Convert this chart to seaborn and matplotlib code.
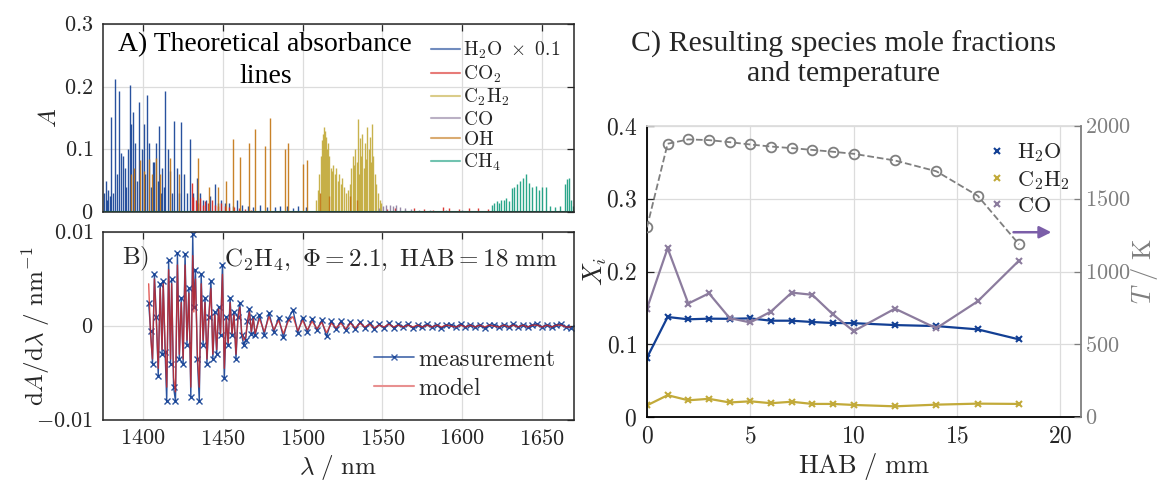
import numpy as np
import pandas as pd
import matplotlib
matplotlib.use('Agg')
import matplotlib.pyplot as plt
import seaborn as sns
from matplotlib.ticker import FuncFormatter, MultipleLocator
from matplotlib.lines import Line2D

# ---------------- data: panel A (stick spectra) ----------------
h2o_wl = [1375.5, 1376.7, 1377.5, 1378.4, 1379.2, 1380.3, 1381.5, 1382.7, 1383.9, 1385.1,
          1386.1, 1387.3, 1388.7, 1389.5, 1390.4, 1391.6, 1392.8, 1394.0, 1395.2, 1396.4,
          1397.8, 1399.3, 1400.5, 1401.5, 1402.4, 1404.1, 1405.0, 1406.0, 1407.2, 1408.4,
          1409.4, 1410.3, 1411.2, 1412.0, 1413.0, 1413.9, 1415.6, 1416.8, 1418.0, 1419.2,
          1421.1, 1422.4, 1423.7, 1425.7, 1427.5, 1429.3, 1431.2, 1433.8, 1435.9, 1437.5,
          1439.6, 1442.0, 1445.1, 1447.0, 1449.2, 1451.5, 1454.0, 1456.5, 1458.8, 1462.0,
          1466.0, 1469.0, 1473.2, 1478.0, 1482.8, 1486.0, 1490.0, 1494.0, 1497.2, 1502.0]
h2o_A = [0.03, 0.05, 0.02, 0.035, 0.025, 0.152, 0.03, 0.213, 0.06, 0.194,
         0.095, 0.09, 0.07, 0.04, 0.10, 0.203, 0.14, 0.16, 0.11, 0.05,
         0.176, 0.10, 0.14, 0.06, 0.187, 0.11, 0.04, 0.08, 0.08, 0.11,
         0.05, 0.138, 0.03, 0.07, 0.04, 0.193, 0.10, 0.065, 0.03, 0.145,
         0.07, 0.03, 0.143, 0.06, 0.03, 0.116, 0.03, 0.055, 0.03, 0.02,
         0.02, 0.025, 0.045, 0.015, 0.02, 0.015, 0.015, 0.01, 0.02, 0.012,
         0.01, 0.008, 0.012, 0.008, 0.008, 0.01, 0.01, 0.006, 0.01, 0.008]

co2_wl = [1430.5, 1431.5, 1433.0, 1434.5, 1436.0, 1437.5, 1439.0, 1441.0, 1443.0, 1445.0,
          1447.0, 1449.0, 1451.5, 1454.0, 1457.0, 1460.0, 1464.0, 1468.0, 1553.0, 1558.0,
          1564.0, 1570.0, 1576.0, 1582.0, 1588.0, 1592.0, 1598.0, 1604.0, 1610.0, 1616.0]
co2_A = [0.046, 0.024, 0.02, 0.015, 0.022, 0.012, 0.018, 0.015, 0.02, 0.012,
         0.01, 0.015, 0.01, 0.008, 0.008, 0.006, 0.005, 0.004, 0.005, 0.006,
         0.004, 0.006, 0.005, 0.004, 0.008, 0.007, 0.005, 0.006, 0.007, 0.005]

c2h2_wl = [1508.5, 1509.5, 1510.5, 1511.3, 1512.0, 1512.7, 1513.4, 1514.0, 1514.7, 1515.3,
           1516.0, 1516.8, 1517.5, 1518.3, 1519.2, 1520.0, 1521.0, 1522.0, 1523.0, 1524.0,
           1525.0, 1526.0, 1527.2, 1528.5, 1529.5, 1530.5, 1531.5, 1532.3, 1533.0, 1533.8,
           1534.5, 1535.3, 1536.0, 1536.8, 1537.5, 1538.3, 1539.0, 1539.8, 1540.5, 1541.3,
           1542.0, 1542.8, 1543.6, 1544.4, 1545.3, 1546.2, 1547.2, 1548.3, 1549.3]
c2h2_A = [0.02, 0.035, 0.06, 0.09, 0.115, 0.125, 0.135, 0.13, 0.12, 0.10,
          0.11, 0.09, 0.07, 0.065, 0.075, 0.06, 0.07, 0.05, 0.06, 0.045,
          0.055, 0.04, 0.03, 0.035, 0.045, 0.07, 0.09, 0.075, 0.10, 0.08,
          0.148, 0.06, 0.118, 0.09, 0.125, 0.07, 0.11, 0.085, 0.135, 0.10,
          0.12, 0.08, 0.14, 0.09, 0.06, 0.045, 0.03, 0.02, 0.015]

co_wl = [1548.0, 1550.5, 1552.5, 1554.5, 1556.5, 1558.5, 1561.0, 1564.0, 1568.0, 1573.0,
         1580.0, 1590.0, 1600.0]
co_A = [0.006, 0.009, 0.011, 0.012, 0.010, 0.011, 0.008, 0.007, 0.005, 0.004,
        0.004, 0.003, 0.003]

oh_wl = [1392.8, 1394.7, 1398.1, 1400.5, 1404.1, 1405.5, 1407.9, 1410.8, 1416.8, 1422.8,
         1434.3, 1441.5, 1447.2, 1451.8, 1456.3, 1460.6, 1466.7, 1470.0, 1476.7, 1479.9,
         1488.7, 1491.1, 1500.2, 1502.6, 1511.0, 1516.3, 1529.5, 1534.3]
oh_A = [0.06, 0.07, 0.083, 0.065, 0.085, 0.06, 0.087, 0.06, 0.086, 0.06,
        0.087, 0.04, 0.04, 0.05, 0.117, 0.088, 0.11, 0.133, 0.105, 0.15,
        0.10, 0.11, 0.077, 0.083, 0.03, 0.025, 0.025, 0.02]

ch4_wl = [1618.5, 1620.0, 1621.5, 1623.0, 1624.5, 1626.0, 1627.5, 1629.0, 1630.9, 1632.5,
          1634.5, 1636.3, 1638.1, 1640.0, 1642.0, 1644.0, 1646.0, 1648.0, 1650.0, 1652.5,
          1655.0, 1658.0, 1661.0, 1664.5, 1665.7, 1666.9, 1668.0, 1669.3]
ch4_A = [0.012, 0.015, 0.018, 0.015, 0.02, 0.02, 0.022, 0.018, 0.038, 0.04,
         0.045, 0.05, 0.055, 0.06, 0.047, 0.04, 0.042, 0.035, 0.04, 0.04,
         0.01, 0.008, 0.01, 0.045, 0.052, 0.055, 0.02, 0.01]

species_labels = [r'$\mathrm{H_2O\ \times\ 0.1}$', r'$\mathrm{CO_2}$', r'$\mathrm{C_2H_2}$',
                  r'$\mathrm{CO}$', r'$\mathrm{OH}$', r'$\mathrm{CH_4}$']

# ---------------- data: panel B (derivative spectra) ----------------
osc_wl = [1403.6, 1404.8, 1406.0, 1407.2, 1408.4, 1409.6, 1410.8, 1412.0, 1412.7, 1413.9,
          1414.9, 1416.1, 1417.3, 1418.0, 1419.2, 1420.4, 1421.6, 1422.8, 1424.0, 1425.2,
          1426.4, 1427.6, 1428.8, 1430.0, 1431.2, 1431.9, 1432.9, 1434.1, 1435.3, 1436.5,
          1437.7, 1438.9, 1440.1, 1441.3, 1442.6, 1443.8, 1445.0, 1446.2, 1447.4, 1448.6,
          1449.8, 1451.0, 1452.2, 1453.4, 1454.6, 1455.8, 1457.0, 1458.3, 1459.5, 1460.7,
          1461.9, 1463.1, 1464.3, 1465.5, 1466.7, 1467.9, 1469.1, 1470.3]
meas_osc = [0.0025, -0.0005, -0.004, 0.0055, 0.001, -0.0053, 0.0045, -0.003, 0.0048, -0.0028,
            -0.008, 0.007, -0.004, 0.005, -0.0065, -0.008, 0.0078, -0.0035, 0.003, -0.004,
            0.0077, -0.002, 0.004, -0.0075, 0.0098, 0.002, 0.006, -0.0035, -0.008, 0.0055,
            -0.002, 0.003, -0.004, 0.001, 0.0048, -0.0035, 0.0015, -0.003, 0.002, -0.001,
            0.0065, -0.0055, 0.001, -0.002, 0.003, -0.001, 0.0015, -0.0035, 0.001, 0.0025,
            -0.001, -0.002, -0.0015, 0.0005, 0.0018, -0.0008, 0.001, -0.001]
model_osc = [0.0045, -0.001, -0.0035, 0.005, 0.0005, -0.0045, 0.004, -0.0025, 0.0045, -0.002,
             -0.0065, 0.006, -0.0035, 0.0045, -0.0055, -0.007, 0.0065, -0.003, 0.0025, -0.0035,
             0.0065, -0.0015, 0.0035, -0.0065, 0.0075, 0.0015, 0.005, -0.003, -0.0065, 0.0045,
             -0.0015, 0.0025, -0.0035, 0.001, 0.004, -0.003, 0.0012, -0.0025, 0.0018, -0.0008,
             0.0055, -0.0045, 0.0008, -0.0018, 0.0025, -0.0008, 0.0012, -0.003, 0.0008, 0.002,
             -0.0008, -0.0015, -0.0012, 0.0004, 0.0015, -0.0006, 0.0008, -0.0008]
tail_wl = [1473, 1476, 1479, 1482, 1485, 1488, 1491, 1494, 1497, 1500,
           1503, 1506, 1509, 1512, 1515, 1518, 1521, 1524, 1527, 1530,
           1533, 1536, 1539, 1542, 1545, 1548, 1551, 1554, 1557, 1560,
           1563, 1566, 1569, 1572, 1575, 1578, 1581, 1584, 1587, 1590,
           1593, 1596, 1599, 1602, 1605, 1608, 1611, 1614, 1617, 1620,
           1623, 1626, 1629, 1632, 1635, 1638, 1641, 1644, 1647, 1650,
           1653, 1656, 1659, 1662, 1665, 1668]
meas_tail = [0.0012, -0.0009, 0.0014, -0.0006, 0.0009, -0.0012, 0.0008, 0.0017, -0.0007, 0.0009,
             -0.0006, 0.0008, -0.0004, 0.0006, -0.0011, 0.0005, -0.0003, 0.0005, -0.0004, 0.0004,
             -0.0003, 0.0004, -0.0002, 0.0003, -0.0003, 0.0002, -0.0002, 0.0003, -0.0002, 0.0002,
             -0.0001, 0.0002, -0.0002, 0.0001, -0.0001, 0.0002, -0.0001, 0.0001, -0.0002, 0.0001,
             0.0001, -0.0001, 0.0002, -0.0001, 0.0001, -0.0001, 0.0001, -0.0002, 0.0001, 0.0001,
             -0.0001, 0.0001, -0.0001, 0.0002, -0.0001, 0.0001, -0.0001, 0.0001, 0.0002, -0.0001,
             0.0001, -0.0001, 0.0001, 0.0002, -0.0001, -0.0002]
model_tail = [0.0008, -0.0006, 0.0010, -0.0004, 0.0006, -0.0008, 0.0005, 0.0010, -0.0005, 0.0006,
              -0.0004, 0.0005, -0.0003, 0.0004, -0.0007, 0.0003, -0.0002, 0.0003, -0.0003, 0.0003,
              -0.0002, 0.0003, -0.0001, 0.0002, -0.0002, 0.0001, -0.0001, 0.0002, -0.0001, 0.0001,
              -0.0001, 0.0001, -0.0001, 0.0001, -0.0001, 0.0001, -0.0001, 0.0001, -0.0001, 0.0001,
              0.0000, -0.0001, 0.0001, -0.0001, 0.0001, -0.0001, 0.0001, -0.0001, 0.0001, 0.0000,
              -0.0001, 0.0001, -0.0001, 0.0001, -0.0001, 0.0001, -0.0001, 0.0001, 0.0001, -0.0001,
              0.0001, -0.0001, 0.0001, 0.0001, -0.0001, -0.0001]

# ---------------- data: panel C ----------------
hab = [0, 1, 2, 3, 4, 5, 6, 7, 8, 9, 10, 12, 14, 16, 18]
x_h2o = [0.0814, 0.1375, 0.1343, 0.1352, 0.1350, 0.1356, 0.1324, 0.1324, 0.1306, 0.1292,
         0.1290, 0.1264, 0.1250, 0.1205, 0.1067]
x_c2h2 = [0.016, 0.030, 0.023, 0.025, 0.020, 0.0216, 0.019, 0.021, 0.018, 0.018,
          0.0166, 0.0147, 0.017, 0.0184, 0.018]
x_co = [0.149, 0.232, 0.156, 0.170, 0.136, 0.130, 0.145, 0.171, 0.168, 0.141,
        0.118, 0.149, 0.122, 0.159, 0.215]
temp_K = [1304, 1878, 1908, 1903, 1889, 1873, 1859, 1848, 1836, 1823,
          1809, 1763, 1689, 1521, 1187]

# ---------------- style ----------------
sns.set_theme(style='white')
plt.rcParams['font.family'] = ['Liberation Serif', 'DejaVu Serif']
plt.rcParams['mathtext.fontset'] = 'cm'
plt.rcParams['axes.unicode_minus'] = True

C_H2O = '#123f94'
C_CO2 = '#d8241f'
C_C2H2 = '#c2aa3a'
C_CO = '#8c7c9e'
C_OH = '#c27412'
C_CH4 = '#139b7c'
C_GRID = '#dcdcdc'
C_FRAME = '#262626'
C_GREY = '#7f7f7f'

TICK = 16
LAB = 18

def mfmt(v, p):
    s = f'{v:g}'
    return f'${s}$'

fig = plt.figure(figsize=(11.64, 4.83), dpi=100)
axA = fig.add_axes([0.0885, 0.561, 0.4046, 0.389])
axB = fig.add_axes([0.0885, 0.1304, 0.4046, 0.389])
axC = fig.add_axes([0.5558, 0.1366, 0.3729, 0.6025])
axT = axC.twinx()

for ax in (axA, axB):
    ax.set_xlim(1375, 1670)
    ax.xaxis.set_major_locator(MultipleLocator(50))
    ax.grid(True, color=C_GRID, lw=0.9)
    ax.set_axisbelow(True)
    ax.tick_params(direction='in', length=5, width=0.9, top=True, right=True,
                   labelsize=TICK, colors=C_FRAME, pad=7)
    for s in ax.spines.values():
        s.set_color(C_FRAME)
        s.set_linewidth(1.1)
    ax.yaxis.set_major_formatter(FuncFormatter(mfmt))
    ax.xaxis.set_major_formatter(FuncFormatter(mfmt))

# ---------------- panel A ----------------
axA.set_ylim(0, 0.3)
axA.yaxis.set_major_locator(MultipleLocator(0.1))
axA.tick_params(labelbottom=False)
spectra = [(h2o_wl, h2o_A, C_H2O), (co2_wl, co2_A, C_CO2), (c2h2_wl, c2h2_A, C_C2H2),
           (co_wl, co_A, C_CO), (oh_wl, oh_A, C_OH), (ch4_wl, ch4_A, C_CH4)]
for wl, a, c in spectra:
    axA.vlines(wl, 0, a, color=c, lw=1.0, alpha=0.9)
axA.axhline(0, color=C_CH4, lw=1.5)
handles = [Line2D([], [], color=c, lw=1.5, alpha=0.6) for _, _, c in spectra]
axA.legend(handles, species_labels, loc='upper right', bbox_to_anchor=(1.0, 0.99),
           frameon=False, fontsize=14, handlelength=1.5, handletextpad=0.15,
           labelspacing=0.12, borderpad=0.2)
axA.text(1476.7, 0.288, 'A) Theoretical absorbance\nlines', ha='center', va='top',
         fontsize=20, linespacing=1.4, color='black')
axA.set_ylabel(r'$A$', fontsize=LAB, labelpad=2)

# ---------------- panel B ----------------
dfB = pd.DataFrame({'wl': osc_wl + tail_wl, 'meas': meas_osc + meas_tail,
                    'model': model_osc + model_tail})
sns.lineplot(data=dfB, x='wl', y='meas', ax=axB, color=C_H2O, lw=1.0, marker='x',
             markersize=4, markeredgewidth=1.0, markeredgecolor=C_H2O, alpha=0.9)
sns.lineplot(data=dfB, x='wl', y='model', ax=axB, color=C_CO2, lw=1.0, alpha=0.75)
axB.set_ylim(-0.01, 0.01)
axB.yaxis.set_major_locator(MultipleLocator(0.01))
axB.set_xlabel(r'$\lambda\ /\ \mathrm{nm}$', fontsize=LAB, labelpad=2)
axB.set_ylabel(r'$\mathrm{d}A/\mathrm{d}\lambda\ /\ \mathrm{nm}^{-1}$', fontsize=LAB, labelpad=-11)
hB = [Line2D([], [], color=C_H2O, lw=1.2, marker='x', markersize=4, alpha=0.8),
      Line2D([], [], color='#e89090', lw=1.5)]
axB.legend(hB, [r'$\mathrm{measurement}$', r'$\mathrm{model}$'], loc='lower right',
           bbox_to_anchor=(0.995, 0.02), frameon=False, fontsize=17, handlelength=1.7,
           handletextpad=0.15, labelspacing=0.3, borderpad=0.2)
axB.text(1386.8, 0.0071, r'$\mathrm{B)}$', ha='left', va='center', fontsize=18)
axB.text(1660, 0.0071, r'$\mathrm{C_2H_4},\ \Phi = 2.1,\ \mathrm{HAB} = 18\ \mathrm{mm}$',
         ha='right', va='center', fontsize=18)

# ---------------- panel C ----------------
dfC = pd.DataFrame({'hab': hab, 'h2o': x_h2o, 'c2h2': x_c2h2, 'co': x_co, 'T': temp_K})
for col, c in (('h2o', C_H2O), ('c2h2', C_C2H2), ('co', C_CO)):
    sns.lineplot(data=dfC, x='hab', y=col, ax=axC, color=c, lw=1.6, marker='x',
                 markersize=5, markeredgewidth=1.5, markeredgecolor=c)
sns.lineplot(data=dfC, x='hab', y='T', ax=axT, color=C_GREY, lw=1.3, linestyle='--',
             marker='o', markersize=7, markerfacecolor='none', markeredgecolor=C_GREY,
             markeredgewidth=1.3)
axC.set_xlim(0, 21)
axC.set_ylim(0, 0.4)
axT.set_ylim(0, 2000)
axC.xaxis.set_major_locator(MultipleLocator(5))
axC.yaxis.set_major_locator(MultipleLocator(0.1))
axT.yaxis.set_major_locator(MultipleLocator(500))
axC.grid(True, color=C_GRID, lw=0.9)
axC.set_axisbelow(True)
axC.tick_params(direction='in', length=5, width=0.9, labelsize=TICK + 1, colors=C_FRAME, pad=7)
axT.tick_params(direction='in', length=5, width=0.9, labelsize=TICK, colors=C_GREY, pad=3)
axC.xaxis.set_major_formatter(FuncFormatter(mfmt))
axC.yaxis.set_major_formatter(FuncFormatter(mfmt))
axT.yaxis.set_major_formatter(FuncFormatter(mfmt))
axC.spines['left'].set_color('black')
axC.spines['bottom'].set_color('black')
axC.spines['left'].set_linewidth(1.3)
axC.spines['bottom'].set_linewidth(1.3)
axC.spines['top'].set_color(C_GRID)
axC.spines['right'].set_visible(False)
for s in ('left', 'bottom', 'top'):
    axT.spines[s].set_visible(False)
axT.spines['right'].set_color(C_GREY)
axT.spines['right'].set_linewidth(1.3)
axC.set_xlabel(r'$\mathrm{HAB\ /\ mm}$', fontsize=LAB + 1, labelpad=2)
axC.set_ylabel(r'$X_i$', fontsize=LAB + 1, labelpad=-2)
axT.set_ylabel(r'$T\ /\ \mathrm{K}$', fontsize=LAB + 1, labelpad=-1, color=C_GREY)
hC = [Line2D([], [], color=c, lw=0, marker='x', markersize=5, markeredgewidth=1.5)
      for c in (C_H2O, C_C2H2, C_CO)]
axT.legend(hC, [r'$\mathrm{H_2O}$', r'$\mathrm{C_2H_2}$', r'$\mathrm{CO}$'],
           loc='upper right', bbox_to_anchor=(1.01, 1.0), frameon=False,
           fontsize=16, handlelength=0.8, handletextpad=0.5, labelspacing=0.2, borderpad=0.2)
axT.annotate('', xy=(19.7, 1270), xytext=(17.6, 1270),
             arrowprops=dict(arrowstyle='-|>', color='#7b5ea8', lw=1.8, mutation_scale=18))
fig.text(0.7247, 0.878, 'C) Resulting species mole fractions\nand temperature',
         ha='center', va='center', fontsize=21.5, linespacing=1.12)

fig.savefig('out.png', dpi=100)
